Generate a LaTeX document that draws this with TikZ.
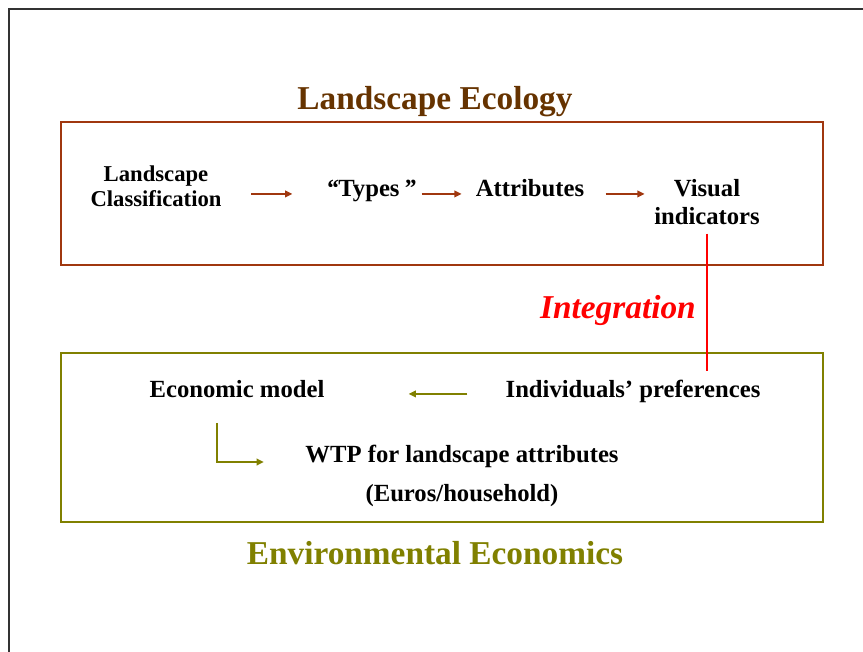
\documentclass[tikz,border=0pt]{standalone}
\usepackage{fontspec}
\setmainfont{Liberation Serif}
\usetikzlibrary{arrows.meta}

\definecolor{rust}{RGB}{160,55,15}
\definecolor{ecobrown}{RGB}{102,51,0}
\definecolor{olivegreen}{RGB}{128,128,0}

\begin{document}
\begin{tikzpicture}[x=0.75pt, y=-0.75pt,
    heading/.style={font=\bfseries\fontsize{25}{30}\selectfont, inner sep=0pt, anchor=base},
    item/.style={font=\bfseries\fontsize{18.5}{21}\selectfont, inner sep=0pt, anchor=base, align=center},
    flow/.style={line width=1.8pt, -{Triangle[length=5.5pt, width=5pt]}}]
  \useasboundingbox (0,0) rectangle (863,652);
  % slide frame
  \draw[line width=1.5pt, black!80] (9,652) -- (9,9) -- (863,9);

  % --- Landscape ecology ---
  \draw[rust, line width=1.8pt] (61,122) rectangle (823,265);
  \node[heading, text=ecobrown] (ecotitle) at (435,110) {Landscape Ecology};
  \node[item, font=\bfseries\fontsize{17}{18.75}\selectfont] (classif) at (156,207) {Landscape\\Classification};
  \node[item] (types) at (371,197) {{\itshape “}Types{\itshape\,”}};
  \node[item] (attrib) at (530,197) {Attributes};
  \node[item] (visual) at (707,225) {Visual\\indicators};
  % flow arrows
  \draw[flow, rust, shorten <=22pt, shorten >=25pt] (classif.east |- types.mid) -- (types.mid west);
  \draw[flow, rust, shorten <=4pt, shorten >=10.5pt] (types.mid east) -- (attrib.mid west);
  \draw[flow, rust, shorten <=16pt, shorten >=7pt] (attrib.mid east) -- (attrib.mid -| visual.west);

  % --- Environmental economics ---
  \draw[olivegreen, line width=1.8pt] (61,353) rectangle (823,522);
  \node[heading, text=olivegreen] (envtitle) at (435,564) {Environmental Economics};
  \node[item] (econ) at (237,397) {Economic model};
  \node[item] (prefs) at (633,397) {Individuals’ preferences};
  \node[item] (wtp) at (462,462) {WTP for landscape attributes};
  \node[item] (euros) at (462,501) {(Euros/household)};
  \draw[flow, olivegreen, shorten <=28.5pt, shorten >=63pt] (prefs.mid west) -- (prefs.mid west -| econ.east);
  \draw[flow, olivegreen, shorten <=19pt, shorten >=31pt] ([xshift=-15pt]econ.south) |- (wtp.base west);

  % integration link
  \draw[red, line width=1.1pt, shorten <=6pt, shorten >=6pt] (visual.south) -- (visual.south |- prefs.north);
  \node[heading, text=red, font=\bfseries\itshape\fontsize{25}{30}\selectfont, anchor=base east] (integ) at (696,318) {Integration};
\end{tikzpicture}
\end{document}
